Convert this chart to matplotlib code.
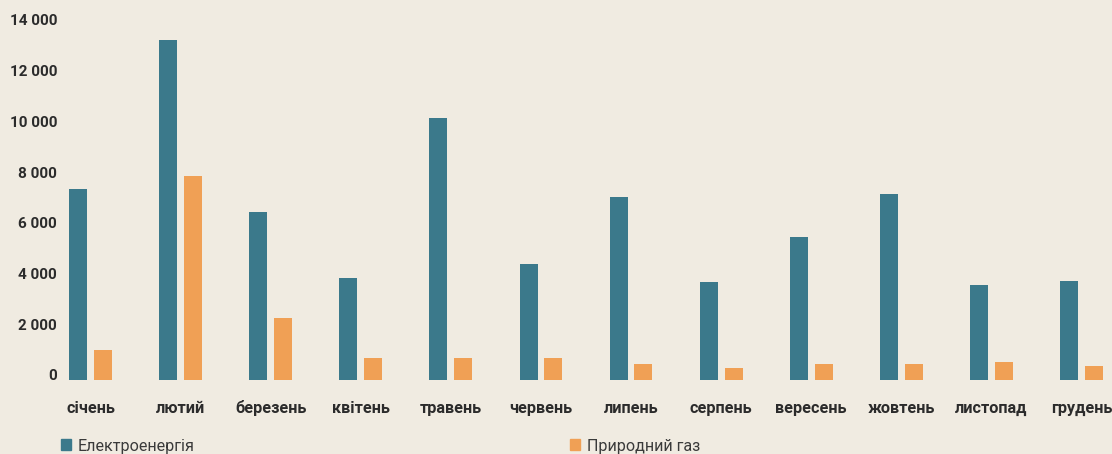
import matplotlib.pyplot as plt
import matplotlib.transforms as mtransforms
from matplotlib.patches import Patch
import numpy as np

months = ['січень', 'лютий', 'березень', 'квітень', 'травень', 'червень',
          'липень', 'серпень', 'вересень', 'жовтень', 'листопад', 'грудень']
electricity = [7530, 13410, 6620, 4020, 10330, 4570,
               7220, 3860, 5640, 7330, 3750, 3900]
gas = [1180, 8040, 2440, 870, 870, 870,
       630, 470, 630, 630, 710, 550]
yticks = [0, 2000, 4000, 6000, 8000, 10000, 12000, 14000]
ytick_labels = ['0', '2 000', '4 000', '6 000', '8 000', '10 000', '12 000', '14 000']

bg = '#f0ebe1'
c_elec = '#3b798b'
c_gas = '#f0a055'
txt = '#2b2b2b'

plt.rcParams['font.family'] = ['Roboto', 'DejaVu Sans']

fig = plt.figure(figsize=(11.12, 4.54), dpi=100, facecolor=bg)
W, H = 1112, 454
ax = fig.add_axes([60 / W, 74 / H, 1052 / W, 367.7 / H], facecolor=bg)

x = np.arange(len(months))
w = 0.2
off = 0.138
ax.bar(x - off, electricity, width=w, color=c_elec)
ax.bar(x + off, gas, width=w, color=c_gas)

ax.set_xlim(-0.339, 11.339)
ax.set_ylim(0, 14500)

ax.set_yticks(yticks)
ax.set_yticklabels(ytick_labels, fontsize=11, fontweight='bold', color=txt)
ax.set_xticks(x)
ax.set_xticklabels(months, fontsize=11.7, fontweight='bold', color=txt)
ax.tick_params(axis='y', length=0, pad=2)
ax.tick_params(axis='x', length=0, pad=23.5)
for lab in ax.get_xticklabels():
    lab.set_verticalalignment('baseline')

shift = mtransforms.ScaledTranslation(0, 5 / 100, fig.dpi_scale_trans)
for lab in ax.get_yticklabels():
    lab.set_transform(lab.get_transform() + shift)

for s in ax.spines.values():
    s.set_visible(False)

handles = [Patch(color=c_elec, label='Електроенергія'),
           Patch(color=c_gas, label='Природний газ')]
fig.legend(handles=handles, loc='lower left', bbox_to_anchor=(46 / W, -14 / H),
           ncol=2, frameon=False, fontsize=11.6, handlelength=0.65,
           handleheight=0.65, handletextpad=0.4, columnspacing=23.3,
           labelcolor='#3a3a3a')

fig.savefig('out.png', dpi=100, facecolor=bg)
